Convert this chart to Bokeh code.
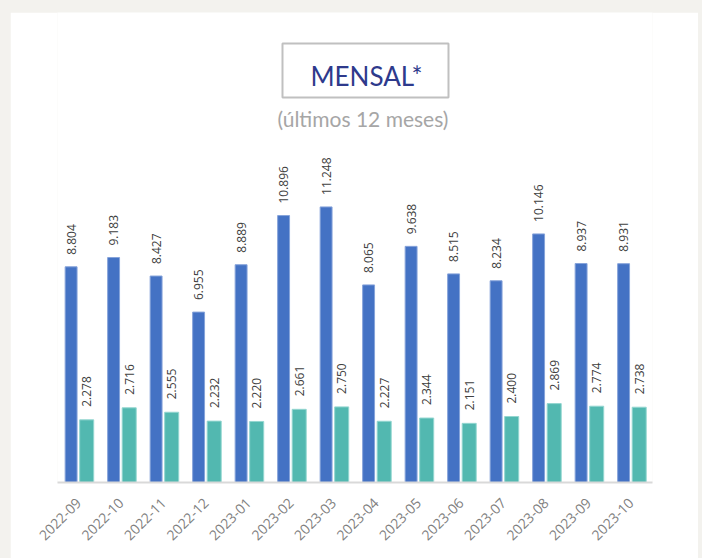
import math
from bokeh.plotting import figure
from bokeh.models import ColumnDataSource, FactorRange, Range1d, Label, GlobalInlineStyleSheet
from bokeh.transform import dodge
from bokeh.core.properties import value
from bokeh.embed import file_html
from bokeh.resources import INLINE

# ---- data ----
meses = ["2022-09", "2022-10", "2022-11", "2022-12", "2023-01", "2023-02", "2023-03",
         "2023-04", "2023-05", "2023-06", "2023-07", "2023-08", "2023-09", "2023-10"]
serie_azul = [8804, 9183, 8427, 6955, 8889, 10896, 11248, 8065, 9638, 8515, 8234, 10146, 8937, 8931]
serie_verde = [2278, 2716, 2555, 2232, 2220, 2661, 2750, 2227, 2344, 2151, 2400, 2869, 2774, 2738]
titulo = "MENSAL*"
subtitulo = "(últimos 12 meses)"


def fmt(v):
    return f"{v:,}".replace(",", ".")


src = ColumnDataSource(dict(
    m=meses, a=serie_azul, b=serie_verde,
    la=[fmt(v) for v in serie_azul], lb=[fmt(v) for v in serie_verde],
))

AZUL = "#4472c4"
VERDE = "#52b8b0"
PX_A = 0.0245   # px per unit, blue series
PX_B = 0.0275   # px per unit, teal series
FRAME_H = 470

p = figure(width=688, height=546,
           x_range=FactorRange(*meses, range_padding=0),
           y_range=Range1d(0, FRAME_H / PX_A),
           output_backend="svg", toolbar_location=None,
           min_border_left=47, min_border_right=46,
           min_border_top=0, min_border_bottom=76)
p.extra_y_ranges = {"b": Range1d(0, FRAME_H / PX_B)}
p.stylesheets = [GlobalInlineStyleSheet(
    css="html,body{background:#f3f2ee;overflow:hidden;} body{margin:12px 0 0 10px;}")]

p.background_fill_color = "white"
p.border_fill_color = "white"
p.outline_line_color = None
p.xgrid.grid_line_color = None
p.ygrid.grid_line_color = None
p.yaxis.visible = False

off_a, off_b = -0.18, 0.187

p.vbar(x=dodge("m", off_a, range=p.x_range), top="a", width=0.28, source=src,
       fill_color=AZUL, line_color="#86a3da", line_width=1)
p.vbar(x=dodge("m", off_b, range=p.x_range), top="b", width=0.33, source=src,
       y_range_name="b", fill_color=VERDE, line_color="#93d6d0", line_width=1)

common = dict(angle=math.pi / 2, text_align="left", text_baseline="middle",
              text_font=value("Open Sans"), text_font_size="12px", text_color="#404040",
              source=src)
p.text(x=dodge("m", off_a, range=p.x_range), y="a", text="la", y_offset=-12, **common)
p.text(x=dodge("m", off_b, range=p.x_range), y="b", text="lb", y_offset=-13,
       y_range_name="b", **common)

ax = p.xaxis[0]
ax.major_label_orientation = math.pi / 4
ax.major_tick_line_color = None
ax.minor_tick_line_color = None
ax.axis_line_color = "#d9d9d9"
ax.axis_line_width = 2
ax.major_label_text_color = "#7f7f7f"
ax.major_label_text_font = "Open Sans"
ax.major_label_text_font_size = "14px"
ax.major_label_standoff = 12

# title box (decoration, screen-sized)
BASE = 482  # page y of the baseline (frame bottom)
p.rect(x=[7.247], y=[(BASE - 70) / PX_A], width=166, height=54,
       width_units="screen", height_units="screen",
       fill_color=None, line_color="#c0c0c0", line_width=2)
p.add_layout(Label(x=7.27, y=(BASE - 75) / PX_A, text=titulo, text_align="center",
                   text_baseline="alphabetic",
                   text_font="Lato", text_font_size="26px", text_color="#2e3a8c"))
p.add_layout(Label(x=7.188, y=(BASE - 118) / PX_A, text=subtitulo, text_align="center",
                   text_baseline="alphabetic",
                   text_font="Lato", text_font_size="21px", text_color="#a6a6a6"))

open("out.html", "w").write(file_html(p, INLINE))
